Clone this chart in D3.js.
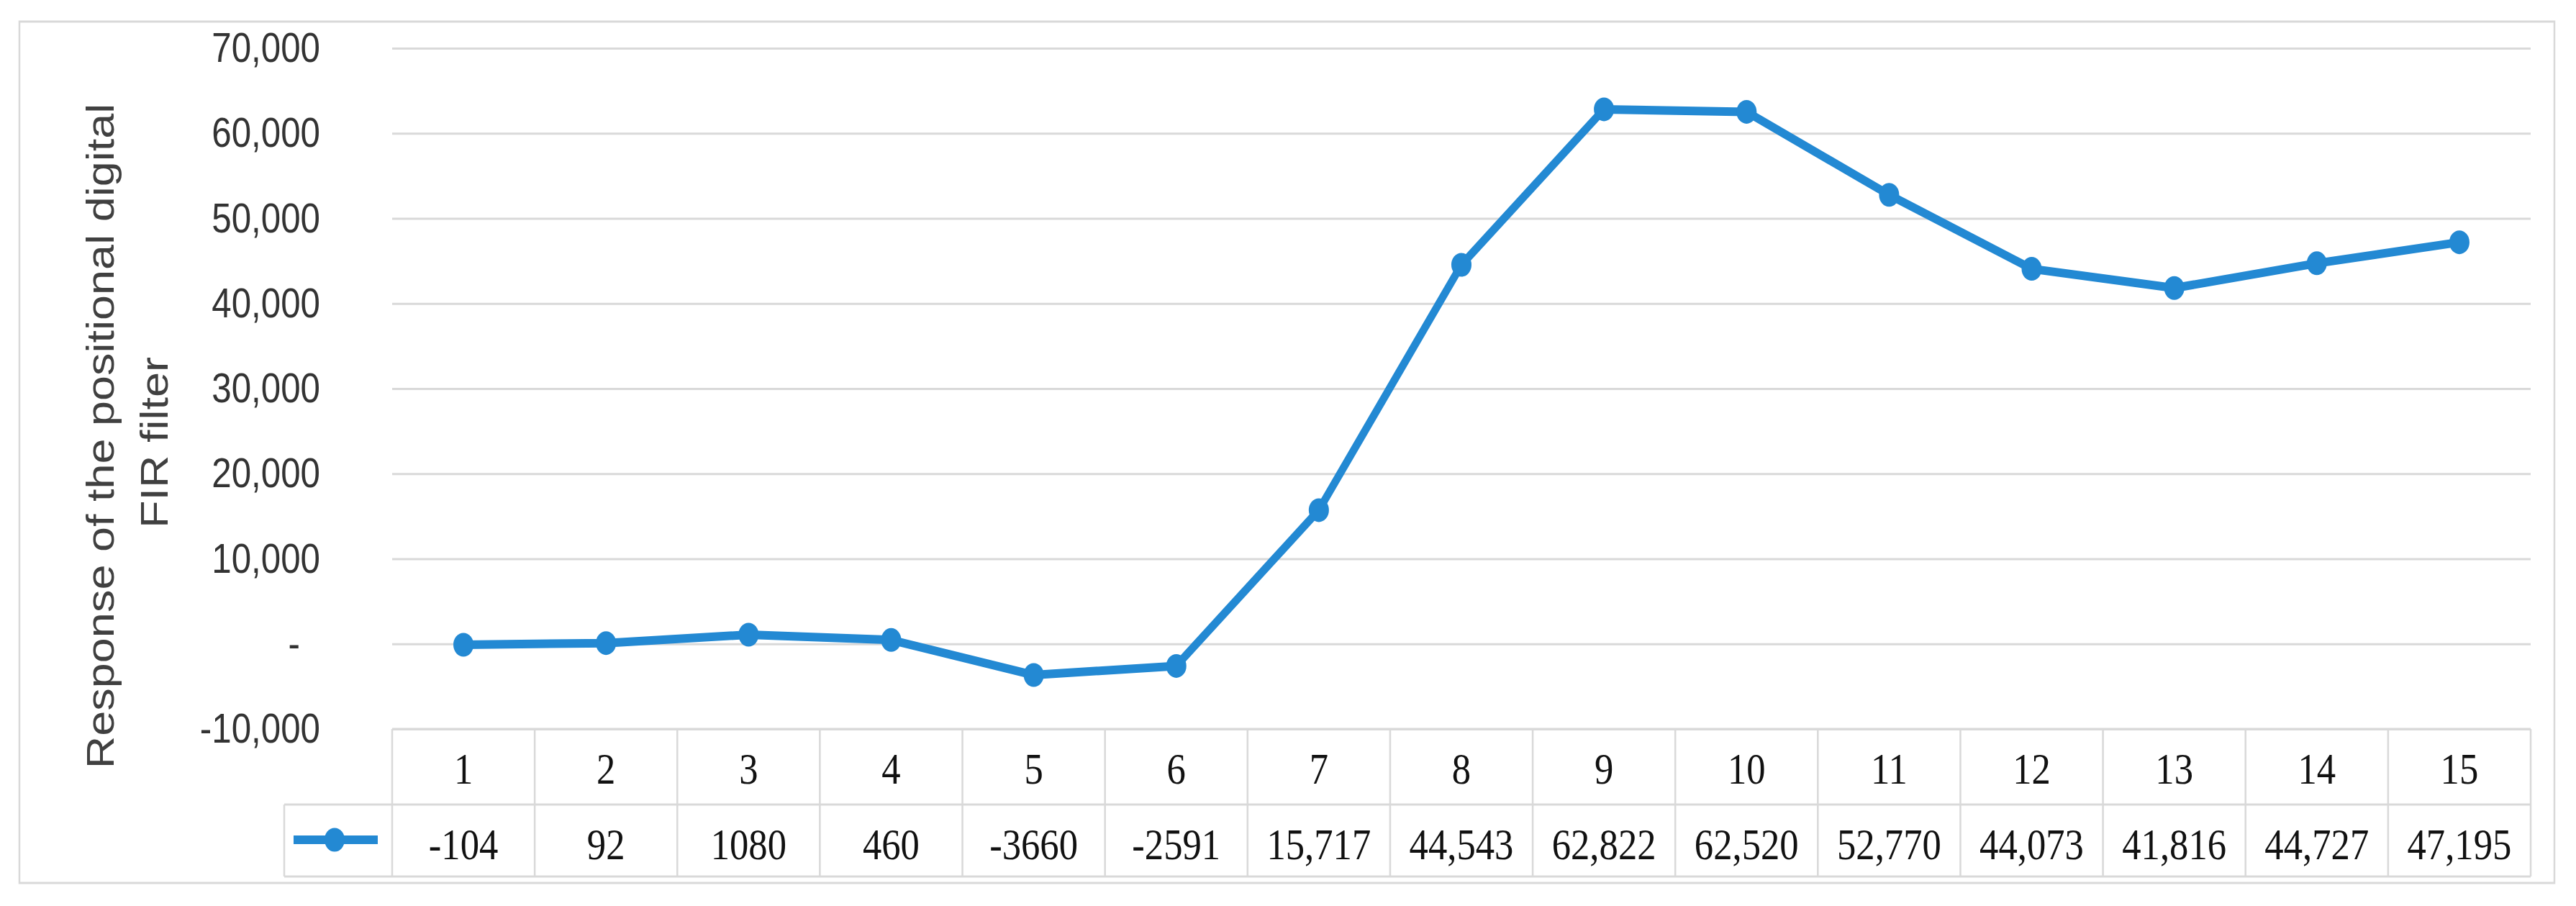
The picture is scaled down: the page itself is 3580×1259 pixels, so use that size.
<!DOCTYPE html>
<html>
<head>
<meta charset="utf-8">
<script src="https://cdn.jsdelivr.net/npm/d3@7"></script>
<style>
  html, body { margin: 0; padding: 0; background: #fff; }
  svg { display: block; }
</style>
</head>
<body>
<div id="chart"></div>
<script>
const categories = ["1", "2", "3", "4", "5", "6", "7", "8", "9", "10", "11", "12", "13", "14", "15"];
const values = [-104, 92, 1080, 460, -3660, -2591, 15717, 44543, 62822, 62520, 52770, 44073, 41816, 44727, 47195];
const valueLabels = ["-104", "92", "1080", "460", "-3660", "-2591", "15,717", "44,543", "62,822", "62,520", "52,770", "44,073", "41,816", "44,727", "47,195"];
const yTicks = [-10000, 0, 10000, 20000, 30000, 40000, 50000, 60000, 70000];
const yTickLabels = ["-10,000", "-", "10,000", "20,000", "30,000", "40,000", "50,000", "60,000", "70,000"];
const titleLines = ["Response of the positional digital", "FIR filter"];

const width = 3580;
const height = 1259;
// the original picture is squeezed sideways, so draw wider and let the viewBox squash it
const K = 0.85;
const vx = px => px / K;

const blue = "#2389d3";
const grid = "#d9d9d9";

const svg = d3.select("#chart")
  .append("svg")
    .attr("width", width)
    .attr("height", height)
    .attr("viewBox", [0, 0, width / K, height])
    .attr("preserveAspectRatio", "none");

// outer chart border
svg.append("rect")
    .attr("x", vx(27))
    .attr("y", 30)
    .attr("width", vx(3550 - 27))
    .attr("height", 1227 - 30)
    .attr("fill", "none")
    .attr("stroke", grid)
    .attr("stroke-width", 3);

const x = d3.scaleBand()
    .domain(categories)
    .range([vx(545), vx(3517)]);

const y = d3.scaleLinear()
    .domain([-10000, 70000])
    .range([1013, 67]);

const cx = d => x(d) + x.bandwidth() / 2;

// gridlines + y labels
svg.append("g")
    .attr("transform", `translate(${x.range()[0]},0)`)
    .call(d3.axisLeft(y)
      .tickValues(yTicks)
      .tickSize(-(x.range()[1] - x.range()[0]))
      .tickPadding(vx(100))
      .tickFormat((d, i) => yTickLabels[i]))
    .call(g => g.select(".domain").remove())
    .call(g => g.selectAll(".tick line")
      .attr("stroke", grid)
      .attr("stroke-width", 3))
    .call(g => g.selectAll(".tick text")
      .attr("font-family", "'Liberation Sans', Arial, sans-serif")
      .attr("font-size", 58)
      .attr("fill", "#333"))
    .call(g => g.selectAll(".tick").filter(d => d === 0).select("text")
      .attr("x", -vx(545 - 417)));

// axis title, rotated
svg.append("g")
    .attr("font-family", "'Liberation Sans', Arial, sans-serif")
    .attr("font-size", 63)
    .attr("fill", "#404040")
    .attr("text-anchor", "middle")
  .selectAll("text")
  .data(titleLines)
  .join("text")
    .attr("transform", (d, i) => `translate(${vx(i === 0 ? 158 : 233)},${i === 0 ? 606 : 615}) rotate(-90)`)
    .text(d => d);

// data table under the plot
const tableTop = 1013, rowMid = 1118, tableBottom = 1218, legendLeft = vx(395);
const tbl = svg.append("g")
    .attr("stroke", grid)
    .attr("stroke-width", 3);

tbl.selectAll("line.h")
  .data([[x.range()[0], tableTop], [legendLeft, rowMid], [legendLeft, tableBottom]])
  .join("line")
    .attr("class", "h")
    .attr("x1", d => d[0])
    .attr("x2", x.range()[1])
    .attr("y1", d => d[1])
    .attr("y2", d => d[1]);

tbl.selectAll("line.v")
  .data(d3.range(categories.length + 1))
  .join("line")
    .attr("class", "v")
    .attr("x1", i => x.range()[0] + i * x.bandwidth())
    .attr("x2", i => x.range()[0] + i * x.bandwidth())
    .attr("y1", tableTop)
    .attr("y2", tableBottom);

tbl.append("line")
    .attr("x1", legendLeft)
    .attr("x2", legendLeft)
    .attr("y1", rowMid)
    .attr("y2", tableBottom);

const cellText = svg.append("g")
    .attr("font-family", "'Liberation Serif', 'Times New Roman', serif")
    .attr("font-size", 62)
    .attr("fill", "#111")
    .attr("text-anchor", "middle");

cellText.selectAll("text.cat")
  .data(categories)
  .join("text")
    .attr("class", "cat")
    .attr("x", cx)
    .attr("y", 1067)
    .attr("dy", "0.35em")
    .text(d => d);

cellText.selectAll("text.val")
  .data(valueLabels)
  .join("text")
    .attr("class", "val")
    .attr("x", (d, i) => cx(categories[i]))
    .attr("y", 1172)
    .attr("dy", "0.35em")
    .text(d => d);

// legend key in the table
svg.append("line")
    .attr("x1", vx(408))
    .attr("x2", vx(525))
    .attr("y1", 1167)
    .attr("y2", 1167)
    .attr("stroke", blue)
    .attr("stroke-width", 12);
svg.append("circle")
    .attr("cx", vx(465))
    .attr("cy", 1167)
    .attr("r", 16.5)
    .attr("fill", blue);

// the series
const line = d3.line()
    .x((d, i) => cx(categories[i]))
    .y(d => y(d));

svg.append("path")
    .datum(values)
    .attr("fill", "none")
    .attr("stroke", blue)
    .attr("stroke-width", 12)
    .attr("stroke-linejoin", "round")
    .attr("d", line);

svg.append("g")
    .attr("fill", blue)
  .selectAll("circle")
  .data(values)
  .join("circle")
    .attr("cx", (d, i) => cx(categories[i]))
    .attr("cy", d => y(d))
    .attr("r", 16.5);
</script>
</body>
</html>
